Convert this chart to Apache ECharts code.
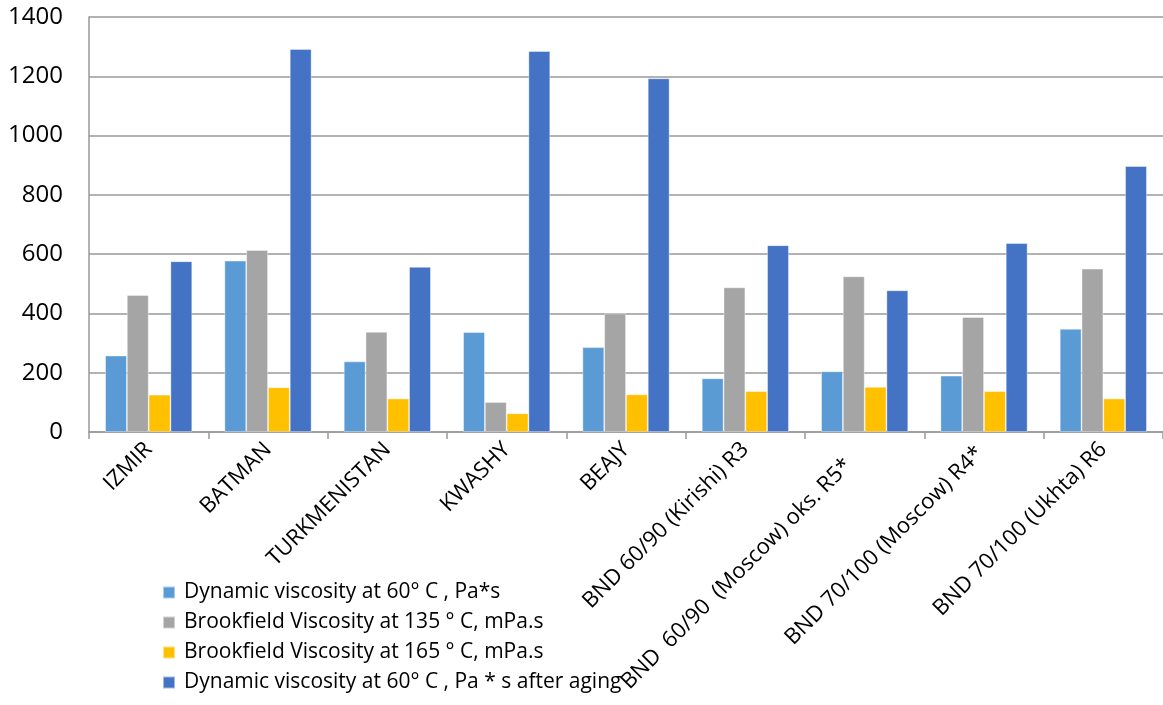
<!DOCTYPE html>
<html>
<head>
<meta charset="utf-8">
<script src="https://cdn.jsdelivr.net/npm/echarts@6/dist/echarts.min.js"></script>
<style>html,body{margin:0;padding:0;background:#fff;}#c{width:1163px;height:705px;}</style>
</head>
<body>
<div id="c"></div>
<script>
const categories = ["IZMIR", "BATMAN", "TURKMENISTAN", "KWASHY", "BEAJY", "BND 60/90 (Kirishi) R3", "BND  60/90  (Moscow) oks. R5*    ", "BND 70/100 (Moscow) R4* ", "BND 70/100 (Ukhta) R6"];
const seriesNames = ["Dynamic viscosity at 60° C , Pa*s", "Brookfield Viscosity at 135 ° C, mPa.s", "Brookfield Viscosity at 165 ° C, mPa.s", "Dynamic viscosity at 60° C , Pa * s after aging"];
const dynVisc60 = [258, 578, 238, 337, 286, 181, 205, 190, 348];
const brook135 = [462, 614, 338, 101, 400, 488, 525, 388, 551];
const brook165 = [126, 151, 113, 63, 127, 138, 152, 138, 113];
const dynViscAged = [576, 1292, 557, 1285, 1193, 630, 478, 637, 897];
const yTicks = [0, 200, 400, 600, 800, 1000, 1200, 1400];
const colors = ["#5B9BD5", "#A5A5A5", "#FFC000", "#4472C4"];

const FONT = "Open Sans";
const chart = echarts.init(document.getElementById('c'), null, {renderer: 'canvas'});
const data = [dynVisc60, brook135, brook165, dynViscAged];
chart.setOption({
  animation: false,
  color: colors,
  textStyle: {fontFamily: FONT},
  grid: {left: 89, top: 17, width: 1085, height: 415, containLabel: false},
  legend: {
    orient: 'vertical', left: 157, top: 577, itemWidth: 12, itemHeight: 12, itemGap: 9,
    icon: 'rect',
    textStyle: {fontFamily: FONT, fontSize: 21, color: '#000', padding: [0, 0, 0, 4]},
    data: seriesNames
  },
  xAxis: {
    type: 'category', data: categories,
    axisLine: {lineStyle: {color: '#999', width: 1.5}},
    axisTick: {show: true, alignWithLabel: false, length: 7, lineStyle: {color: '#999', width: 1.5}},
    axisLabel: {interval: 0, rotate: 45, fontSize: 22, color: '#000', fontFamily: FONT, margin: 14}
  },
  yAxis: {
    type: 'value', min: yTicks[0], max: yTicks[yTicks.length - 1], interval: 200,
    axisLine: {show: true, lineStyle: {color: '#999', width: 1.5}},
    axisTick: {show: false},
    splitLine: {lineStyle: {color: '#999', width: 1.5}},
    axisLabel: {fontSize: 24, color: '#000', fontFamily: FONT, margin: 26, formatter: v => String(v)}
  },
  series: seriesNames.map((n, i) => ({
    name: n, type: 'bar', data: data[i],
    barGap: '0%', barCategoryGap: '27%',
    itemStyle: {color: colors[i], borderColor: 'rgba(255,255,255,0.5)', borderWidth: 0.8}
  }))
});
</script>
</body>
</html>
